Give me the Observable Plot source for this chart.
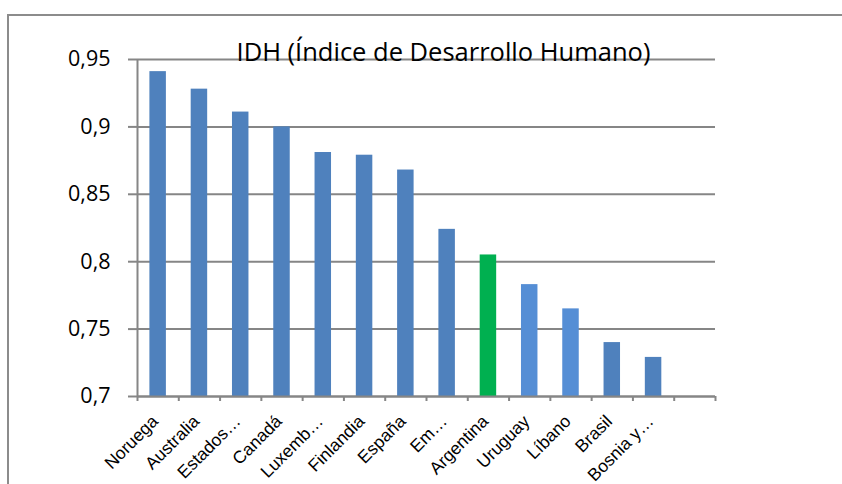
<!DOCTYPE html>
<html><head><meta charset="utf-8">
<script src="https://cdn.jsdelivr.net/npm/d3@7"></script>
<script src="https://cdn.jsdelivr.net/npm/@observablehq/plot@0.6"></script>
<style>
html,body{margin:0;padding:0;background:#fff;}
#wrap{position:relative;width:842px;height:484px;overflow:hidden;background:#fff;}
#frame{position:absolute;left:7px;top:14px;width:900px;height:600px;border-left:2px solid #8c8c8c;border-top:2px solid #8c8c8c;}
#chart{position:absolute;left:0;top:0;}
</style></head><body>
<div id="wrap"><div id="frame"></div><div id="chart"></div></div>
<script>
const title = "IDH (Índice de Desarrollo Humano)";
const paises = ["Noruega","Australia","Estados…","Canadá","Luxemb…","Finlandia","España","Em…","Argentina","Uruguay","Líbano","Brasil","Bosnia y…"];
const idh = [0.941,0.928,0.911,0.900,0.881,0.879,0.868,0.824,0.805,0.783,0.765,0.740,0.729];
const grupo = ["otros","otros","otros","otros","otros","otros","otros","otros","Argentina","vecinos","vecinos","otros","otros"];
const yTicks = [0.7,0.75,0.8,0.85,0.9,0.95];
const nSlots = 14;

const data = paises.map((p,i)=>({i, pais:p, idh:idh[i], grupo:grupo[i]}));
const gray = "#868686";

const chart = Plot.plot({
  width:842, height:484,
  marginLeft:137, marginRight:127, marginTop:59, marginBottom:88,
  style:{background:"transparent", color:"black", fontFamily:"'Open Sans', sans-serif"},
  x:{type:"linear", domain:[0,nSlots], axis:null},
  y:{domain:[0.7,0.95], axis:null},
  color:{domain:["otros","Argentina","vecinos"], range:["#4F81BD","#00B050","#558ED5"]},
  marks:[
    Plot.gridY(yTicks, {stroke:gray, strokeOpacity:1, strokeWidth:2}),
    Plot.rectY(data, {x1:"i", x2:d=>d.i+1, y1:0.7, y2:"idh", fill:"grupo", insetLeft:12.4, insetRight:12.4}),
    Plot.ruleX([0], {stroke:gray, strokeWidth:2}),
    Plot.ruleY([0.7], {stroke:gray, strokeWidth:2}),
    Plot.axisY(yTicks, {label:null, tickFormat:d=>String(d).replace(".", ","), tickSize:9, tickPadding:18, fontSize:21.5, stroke:gray, strokeWidth:2}),
    Plot.axisX(d3.range(nSlots+1), {label:null, tickFormat:()=>"", tickSize:5, stroke:gray, strokeWidth:2}),
    Plot.axisX(data.map(d=>d.i+0.5), {label:null, tickFormat:v=>paises[Math.floor(v)], tickRotate:-45, tickSize:0, tickPadding:22, dx:-3, fontSize:17.5, fontFamily:"'Liberation Sans', Arial, sans-serif"}),
    Plot.text([title], {frameAnchor:"top", lineAnchor:"bottom", dx:17, dy:1, fontSize:25.5, fill:"black"})
  ]
});
document.getElementById("chart").appendChild(chart);
</script>
</body></html>
